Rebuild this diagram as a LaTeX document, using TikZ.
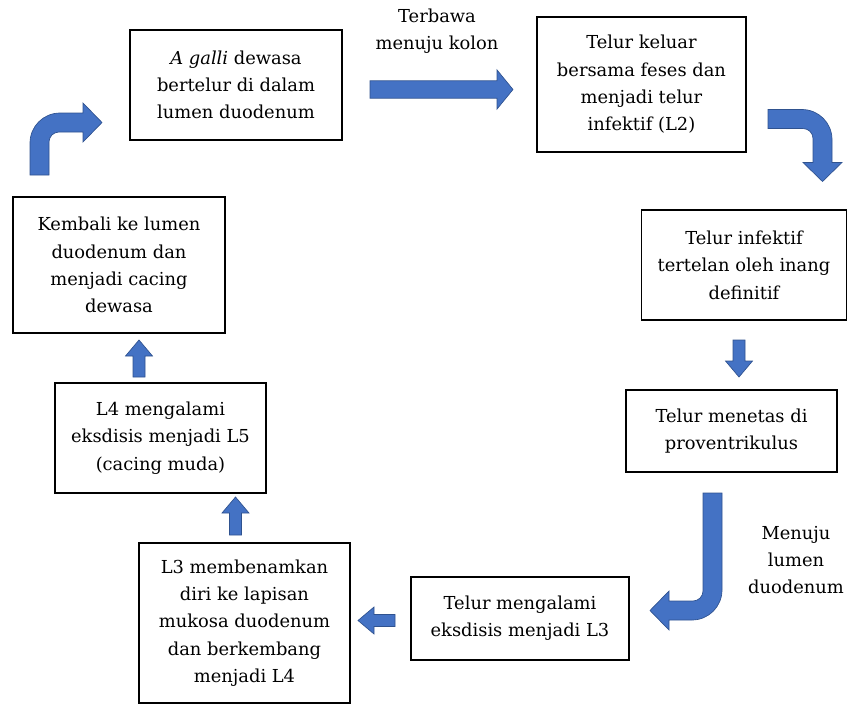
\documentclass[tikz,border=0pt]{standalone}
\usepackage{fontspec}
\setmainfont{DejaVu Serif}
\usetikzlibrary{positioning}
\definecolor{arrowBlue}{HTML}{4472C4}
\definecolor{arrowEdge}{HTML}{2F528F}
\tikzset{
    stage/.style={draw, line width=1.1pt, align=center, inner sep=2pt,
        font=\fontsize{13.4}{20.5}\selectfont},
    note/.style={align=center, font=\fontsize{13.4}{20.5}\selectfont}
}
\tikzset{
    blockArrow/.pic={
		\filldraw[fill=arrowBlue, draw=arrowEdge, line width=0.5pt]
			(0,-6) -- ({#1-16},-6) -- ({#1-16},-13.5) -- (#1,0) -- ({#1-16},13.5) -- ({#1-16},6) -- (0,6) -- cycle;
	}
}
\tikzset{
    bentArrow/.pic={
		\filldraw[fill=arrowBlue, draw=arrowEdge, line width=0.5pt]
			(-9.5,0) -- (-9.5,{-#1+30}) .. controls (-9.5,{-#1+13.4}) and (3.9,-#1) .. (20.5,-#1)
			-- (43.5,-#1) -- (43.5,{-#1-10}) -- (62.5,{-#1+9.5}) -- (43.5,{-#1+29}) -- (43.5,{-#1+19})
			-- (19.5,{-#1+19}) .. controls (14,{-#1+19}) and (9.5,{-#1+23.5}) .. (9.5,{-#1+29})
			-- (9.5,0) -- cycle;
	}
}
\begin{document}
\begin{tikzpicture}[x=0.75pt, y=-0.75pt]
			\useasboundingbox (0,0) rectangle (847,704);
			% stages of the cycle
			\node[stage, minimum width=159pt, minimum height=82.5pt] (adult) at (236,85) {\textit{A galli} dewasa\\bertelur di dalam\\lumen duodenum};
			\node[stage, minimum width=156.75pt, minimum height=101.25pt] (eggOut) at (641.5,84.5) {Telur keluar\\bersama feses dan\\menjadi telur\\infektif (L2)};
			\node[stage, minimum width=153.75pt, minimum height=82.5pt] (swallow) at (744,265) {Telur infektif\\tertelan oleh inang\\definitif};
			\node[stage, minimum width=158.25pt, minimum height=61.5pt] (hatch) at (731.5,431) {Telur menetas di\\proventrikulus};
			\node[stage, minimum width=163.5pt, minimum height=62.25pt] (larvaThree) at (520,618.5) {Telur mengalami\\eksdisis menjadi L3};
			\node[stage, minimum width=158.25pt, minimum height=120pt] (mucosa) at (244.5,623) {L3 membenamkan\\diri ke lapisan\\mukosa duodenum\\dan berkembang\\menjadi L4};
			\node[stage, minimum width=158.25pt, minimum height=82.5pt] (larvaFive) at (160.5,438) {L4 mengalami\\eksdisis menjadi L5\\(cacing muda)};
			\node[stage, minimum width=159pt, minimum height=102pt] (back) at (119,265) {Kembali ke lumen\\duodenum dan\\menjadi cacing\\dewasa};
			% labels on the arrows
			\node[note] (toColon) at (437,31) {Terbawa\\menuju kolon};
			\node[note] (toLumen) at (796,560) {Menuju\\lumen\\duodenum};
			% block arrows
			\pic[yscale=1.45] at (370,89.5) {blockArrow={143}};
			\pic[rotate=-90] at (739,340) {blockArrow={37}};
			\pic[rotate=180] at (395,620.5) {blockArrow={37}};
			\pic[rotate=90] at (235.5,535) {blockArrow={38}};
			\pic[rotate=90] at (139,377) {blockArrow={37}};
			\pic at (39.5,175) {bentArrow={62}};
			\pic[rotate=-90] at (768,119) {bentArrow={64}};
			\pic[rotate=180] at (712.5,493) {bentArrow={127}};
	\end{tikzpicture}
\end{document}
